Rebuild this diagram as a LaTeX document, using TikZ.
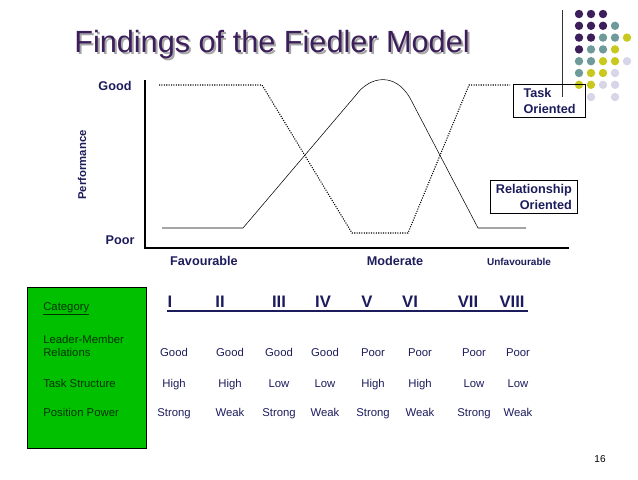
\documentclass[tikz,border=0pt]{standalone}
\usepackage{fontspec}
\setmainfont{Liberation Sans}
\usetikzlibrary{calc}
\definecolor{navy}{HTML}{1C1C5C}
\definecolor{plum}{HTML}{3B1E5A}
\definecolor{teal}{HTML}{6E9A9A}
\definecolor{olive}{HTML}{C8C81E}
\definecolor{lilac}{HTML}{D6D6E8}
\definecolor{boxgreen}{HTML}{00C000}
\tikzset{
 lbl/.style={text=navy, font=\bfseries\fontsize{9.5}{11}\selectfont, inner sep=1pt},
 val/.style={text=navy, font=\fontsize{8.5}{10}\selectfont, inner sep=1pt, anchor=base},
 num/.style={text=navy, font=\bfseries\fontsize{12.5}{14}\selectfont, inner sep=1pt, anchor=base},
 row/.style={text=black!80!green, font=\fontsize{8.5}{10}\selectfont, anchor=west, align=left, inner sep=0pt},
 legend/.style={draw, thick, text=navy, font=\bfseries\fontsize{9.5}{12}\selectfont, inner xsep=4pt, inner ysep=3pt}
}
\begin{document}
\begin{tikzpicture}[x=0.75pt, y=-0.75pt]
\useasboundingbox (0,0) rectangle (638,479);
% title with shadow
\node[text=gray!70, font=\fontsize{23}{26}\selectfont] at (274,47) {Findings of the Fiedler Model};
\node (title) [text=plum, font=\fontsize{23}{26}\selectfont] at (272,45) {Findings of the Fiedler Model};
% corner dots
\draw[black!80] (562,10) -- (562,97);
\foreach \r/\cols in {0/{plum,plum,plum},1/{plum,plum,plum,teal},2/{plum,plum,teal,teal,olive},3/{plum,teal,teal,olive},4/{teal,teal,olive,olive,lilac},5/{teal,olive,olive,lilac},6/{olive,olive,lilac,lilac}} {
 \foreach \c [count=\i from 0] in \cols
  \fill[\c] (579+12*\i, 14+11.8*\r) circle (4.2);
}
\fill[lilac] (591,97) circle (4.2);
\fill[lilac] (615,97) circle (4.2);
% axes
\coordinate (top) at (145,80);
\coordinate (O) at (145,248);
\coordinate (end) at (569,248);
\draw[thick] (top) -- (O) -- (end);
\node (good) [lbl] at (115,86) {Good};
\node (poor) [lbl] at (120,240) {Poor};
\node (perf) [lbl, rotate=90, font=\bfseries\fontsize{8.5}{10}\selectfont] at (82,165) {Performance};
\node (fav) [lbl] at (204,261) {Favourable};
\node (mod) [lbl] at (395,261) {Moderate};
\node (unfav) [lbl, font=\bfseries\fontsize{7.5}{9}\selectfont] at (519,262) {Unfavourable};
% curves
\draw[densely dotted, thick] (159,85) -- (262,85) -- (352,233) -- (408,233) -- (469,85) -- (510,85);
\draw (162,228) -- (243,228) -- (356,95) .. controls (370,76) and (395,72) .. (410,98) -- (478,228) -- (526,228);
\node (task) [legend, align=left, anchor=north west, minimum width=54pt] at (513,84) {Task\\Oriented};
\node (rel) [legend, align=right, anchor=north west] at (490,180) {Relationship\\Oriented};
% table
\draw[fill=boxgreen] (27,287) rectangle (146,448);
\node (cat) [row] at (43,309) {\underline{Category}};
\node (lmr) [row] at (43,346) {Leader-Member\\Relations};
\node (ts) [row] at (43,383) {Task Structure};
\node (pp) [row] at (43,412) {Position Power};
\draw[navy, thick] (167,311) -- (528,311);
\foreach \x/\n in {170/I,220/II,279/III,323/IV,367/V,410/VI,468/VII,512/VIII}
 \node[num] at (\x,307) {\n};
\foreach \x/\a/\b/\c in {174/Good/High/Strong,230/Good/High/Weak,279/Good/Low/Strong,325/Good/Low/Weak,373/Poor/High/Strong,420/Poor/High/Weak,474/Poor/Low/Strong,518/Poor/Low/Weak} {
 \node[val] at (\x,356) {\a};
 \node[val] at (\x,387) {\b};
 \node[val] at (\x,416) {\c};
}
\node (page) [val, text=black, font=\fontsize{7.5}{9}\selectfont] at (600,462) {16};
\end{tikzpicture}
\end{document}
